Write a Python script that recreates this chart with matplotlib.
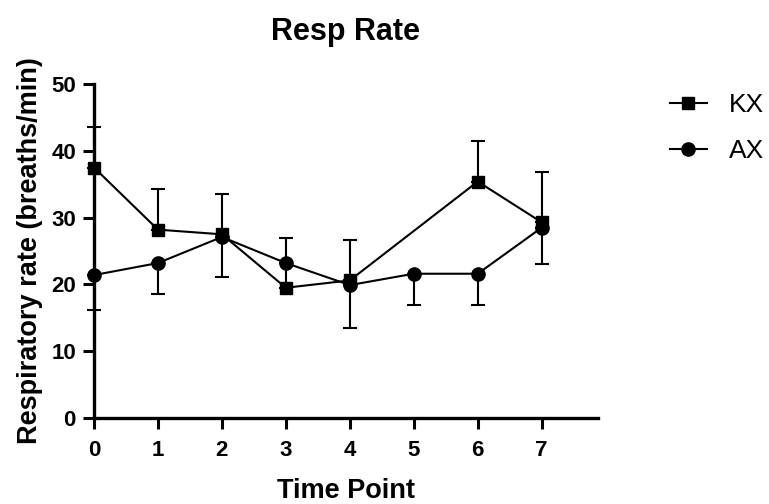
import matplotlib.pyplot as plt
import numpy as np

plt.rcParams['font.family'] = ['Liberation Sans', 'DejaVu Sans']

# data
time_kx = [0, 1, 2, 3, 4, 6, 7]
kx = [37.5, 28.2, 27.5, 19.5, 20.6, 35.4, 29.3]
kx_err = [6.1, 6.1, 6.0, 7.4, 6.1, 6.0, 7.6]

time_ax = [0, 1, 2, 3, 4, 5, 6, 7]
ax_vals = [21.4, 23.2, 27.1, 23.2, 19.9, 21.6, 21.6, 28.5]
ax_err = [5.3, 4.7, 6.0, 0.0, 6.4, 4.7, 4.7, 5.5]

fig = plt.figure(figsize=(7.69, 5.04), dpi=100)
ax = fig.add_axes([0.1222, 0.1706, 0.6554, 0.6627])

# KX: error bars up only, AX: error bars down only
kx_lo = np.zeros(len(kx_err))
ax_hi = np.zeros(len(ax_err))
ax.errorbar(time_kx, kx, yerr=[kx_lo, kx_err], color='black', marker='s', ms=8.5,
            lw=1.5, elinewidth=1.5, capsize=5, capthick=1.5, label='KX',
            clip_on=False, zorder=3)
ax.errorbar(time_ax, ax_vals, yerr=[ax_err, ax_hi], color='black', marker='o', ms=9.5,
            lw=1.5, elinewidth=1.5, capsize=5, capthick=1.5, label='AX',
            clip_on=False, zorder=3)

ax.set_xlim(0, 7.88)
ax.set_ylim(0, 50)
ax.set_xticks(range(8))
ax.set_yticks(range(0, 51, 10))
ax.spines['top'].set_visible(False)
ax.spines['right'].set_visible(False)
ax.spines['left'].set_linewidth(2.4)
ax.spines['bottom'].set_linewidth(2.4)
ax.tick_params(width=2.2, length=8, labelsize=16, pad=5)
ax.tick_params(axis='x', pad=8)
for lab in ax.get_xticklabels() + ax.get_yticklabels():
    lab.set_fontweight('bold')

ax.set_title('Resp Rate', fontsize=22, fontweight='bold', pad=32)
ax.set_xlabel('Time Point', fontsize=19.5, fontweight='bold', labelpad=12)
ax.set_ylabel('Respiratory rate (breaths/min)', fontsize=19.5, fontweight='bold', labelpad=6)

h, l = ax.get_legend_handles_labels()
h = [x[0] for x in h]
ax.legend(h, l, loc='upper left', bbox_to_anchor=(1.095, 1.045), frameon=False,
          fontsize=19, handlelength=1.4, labelspacing=0.85, handletextpad=0.85)

fig.savefig('out.png', dpi=100)
